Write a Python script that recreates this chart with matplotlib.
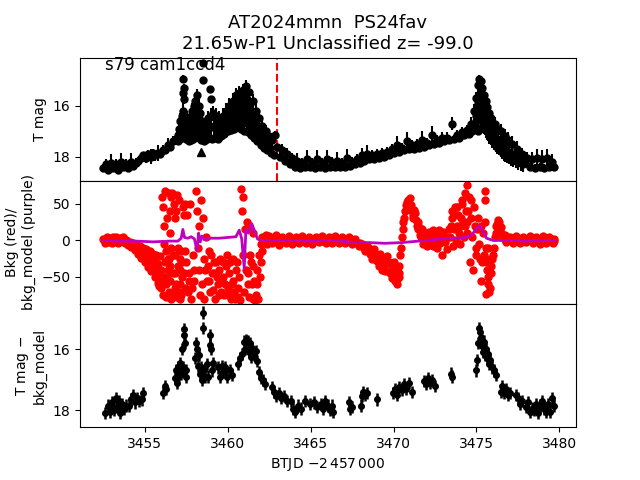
import numpy as np
import matplotlib
matplotlib.use("Agg")
import matplotlib.pyplot as plt

# ---- top panel: T mag light curve (time, mag, err) ----
top_t = [3452.50, 3452.65, 3452.80, 3452.95, 3453.10, 3453.25, 3453.40, 3453.55, 3453.70, 3453.85,
         3454.00, 3454.15, 3454.30, 3454.45, 3454.60, 3454.75, 3454.90, 3455.05, 3455.20, 3455.35,
         3455.50, 3455.65, 3455.80, 3455.95, 3456.10, 3456.25, 3456.40, 3456.55, 3456.70, 3456.85,
         3457.00, 3457.05, 3457.10, 3457.15, 3457.20, 3457.25, 3457.30, 3457.32, 3457.34, 3457.36,
         3457.40, 3457.45, 3457.50, 3457.55, 3457.60, 3457.65, 3457.70, 3457.75, 3457.80, 3457.85,
         3457.90, 3457.95, 3458.00, 3458.05, 3458.10, 3458.15, 3458.20, 3458.25, 3458.30, 3458.35,
         3458.40, 3458.45, 3458.50, 3458.52, 3458.55, 3458.60, 3458.65, 3458.70, 3458.75, 3458.80,
         3458.85, 3458.95, 3458.97, 3459.00, 3459.05, 3459.10, 3459.20, 3459.30, 3459.40, 3459.50,
         3459.60, 3459.70, 3459.80, 3459.90, 3460.00, 3460.10, 3460.20, 3460.30, 3460.40, 3460.50,
         3460.60, 3460.70, 3460.80, 3460.90, 3461.00, 3461.10, 3461.20, 3461.30, 3461.40, 3461.50,
         3461.60, 3461.70, 3461.80, 3461.90, 3462.00, 3462.10, 3462.20, 3462.30, 3462.40, 3462.50,
         3462.60, 3462.70, 3462.80, 3462.85, 3463.00, 3463.15, 3463.30, 3463.45, 3463.60, 3463.75,
         3463.90, 3464.05, 3464.20, 3464.35, 3464.50, 3464.65, 3464.80, 3464.95, 3465.10, 3465.25,
         3465.40, 3465.55, 3465.70, 3465.85, 3466.00, 3466.15, 3466.30, 3466.45, 3466.60, 3466.75,
         3466.90, 3467.05, 3467.20, 3467.35, 3467.50, 3467.65, 3467.80, 3467.95, 3468.10, 3468.25,
         3468.40, 3468.55, 3468.70, 3468.85, 3469.00, 3469.15, 3469.30, 3469.45, 3469.60, 3469.75,
         3469.90, 3470.05, 3470.20, 3470.35, 3470.50, 3470.65, 3470.80, 3470.95, 3471.10, 3471.25,
         3471.40, 3471.55, 3471.70, 3471.85, 3472.00, 3472.15, 3472.30, 3472.45, 3472.60, 3472.75,
         3472.90, 3473.05, 3473.20, 3473.35, 3473.50, 3473.65, 3473.80, 3473.95, 3474.10, 3474.25,
         3474.40, 3474.55, 3474.65, 3474.75, 3474.85, 3474.95, 3475.00, 3475.05, 3475.10, 3475.12,
         3475.15, 3475.20, 3475.22, 3475.25, 3475.30, 3475.35, 3475.40, 3475.45, 3475.50, 3475.55,
         3475.60, 3475.65, 3475.70, 3475.75, 3475.85, 3475.90, 3476.00, 3476.10, 3476.20, 3476.30,
         3476.40, 3476.50, 3476.60, 3476.70, 3476.80, 3476.90, 3477.00, 3477.15, 3477.30, 3477.45,
         3477.60, 3477.75, 3477.90, 3478.05, 3478.20, 3478.35, 3478.50, 3478.65, 3478.80, 3478.95,
         3479.10, 3479.25, 3479.40, 3479.55, 3479.70]
top_mag = [18.45, 18.30, 18.50, 18.25, 18.45, 18.30, 18.50, 18.20, 18.40, 18.30,
           18.45, 18.20, 18.35, 18.25, 18.15, 18.05, 17.95, 18.05, 17.90, 18.00,
           17.85, 17.95, 17.85, 17.90, 17.75, 17.75, 17.55, 17.60, 17.40, 17.35,
           17.40, 16.90, 17.30, 16.60, 17.20, 16.40, 15.50, 14.95, 15.30, 15.75,
           17.20, 16.40, 17.30, 16.50, 17.35, 16.70, 17.40, 16.50, 17.35, 16.20,
           17.30, 16.00, 17.20, 15.80, 17.10, 15.60, 17.15, 16.00, 17.25, 16.30,
           17.35, 16.60, 14.35, 15.00, 17.40, 16.80, 17.35, 16.70, 17.30, 16.50,
           17.25, 15.35, 15.75, 16.40, 17.30, 16.30, 17.25, 16.40, 17.30, 16.50,
           17.20, 16.40, 17.10, 16.20, 17.00, 16.00, 16.95, 15.80, 16.90, 15.60,
           16.85, 15.50, 16.90, 15.40, 17.00, 15.25, 17.05, 15.45, 17.15, 15.80,
           17.25, 16.20, 17.40, 16.50, 17.55, 16.80, 17.65, 17.00, 17.75, 17.20,
           17.85, 17.35, 17.95, 17.15, 17.60, 18.00, 17.75, 18.15, 17.90, 18.30,
           18.05, 18.40, 18.15, 18.45, 18.25, 18.40, 18.10, 18.40, 18.25, 18.45,
           18.10, 18.40, 18.25, 18.45, 18.10, 18.40, 18.20, 18.40, 18.15, 18.40,
           18.25, 18.40, 18.05, 18.35, 18.20, 18.30, 18.10, 18.25, 17.95, 18.15,
           17.90, 18.10, 17.95, 18.10, 17.90, 18.05, 17.85, 18.00, 17.80, 17.95,
           17.70, 17.85, 17.55, 17.80, 17.65, 17.75, 17.40, 17.70, 17.55, 17.70,
           17.50, 17.65, 17.35, 17.60, 17.45, 17.55, 17.15, 17.50, 17.35, 17.45,
           17.25, 17.40, 17.25, 17.35, 16.70, 17.30, 17.15, 17.25, 17.05, 17.15,
           16.95, 17.10, 16.70, 17.00, 16.20, 16.60, 15.70, 16.30, 15.20, 17.00,
           14.95, 15.50, 16.90, 15.05, 15.70, 15.30, 15.90, 15.60, 16.10, 15.80,
           16.40, 16.05, 16.70, 16.30, 16.90, 16.50, 17.05, 16.70, 17.25, 16.90,
           17.40, 17.00, 17.55, 17.20, 17.70, 17.35, 17.85, 17.50, 17.95, 17.70,
           18.10, 17.90, 18.25, 18.05, 18.40, 18.10, 18.45, 18.05, 18.40, 18.10,
           18.45, 18.05, 18.40, 18.20, 18.40]
top_err = [0.15, 0.20, 0.15, 0.35, 0.15, 0.20, 0.15, 0.35, 0.15, 0.20,
           0.15, 0.35, 0.15, 0.20, 0.15, 0.20, 0.15, 0.20, 0.15, 0.30,
           0.15, 0.20, 0.30, 0.15, 0.20, 0.15, 0.30, 0.15, 0.20, 0.15,
           0.15, 0.30, 0.15, 0.30, 0.15, 0.30, 0.20, 0.15, 0.15, 0.20,
           0.15, 0.30, 0.15, 0.30, 0.15, 0.30, 0.15, 0.30, 0.15, 0.30,
           0.15, 0.30, 0.15, 0.25, 0.15, 0.25, 0.15, 0.30, 0.15, 0.30,
           0.15, 0.30, 0.10, 0.10, 0.15, 0.30, 0.15, 0.30, 0.15, 0.30,
           0.15, 0.10, 0.10, 0.30, 0.15, 0.30, 0.15, 0.30, 0.15, 0.30,
           0.15, 0.30, 0.15, 0.30, 0.15, 0.30, 0.15, 0.30, 0.15, 0.30,
           0.15, 0.25, 0.15, 0.25, 0.15, 0.25, 0.15, 0.25, 0.15, 0.25,
           0.15, 0.25, 0.15, 0.25, 0.15, 0.25, 0.15, 0.25, 0.15, 0.25,
           0.15, 0.25, 0.15, 0.15, 0.20, 0.15, 0.25, 0.15, 0.25, 0.15,
           0.20, 0.15, 0.30, 0.15, 0.20, 0.15, 0.35, 0.15, 0.20, 0.15,
           0.35, 0.15, 0.20, 0.15, 0.35, 0.15, 0.20, 0.15, 0.35, 0.15,
           0.20, 0.15, 0.35, 0.15, 0.20, 0.15, 0.20, 0.15, 0.30, 0.15,
           0.35, 0.15, 0.20, 0.15, 0.20, 0.15, 0.20, 0.15, 0.20, 0.15,
           0.20, 0.15, 0.35, 0.15, 0.20, 0.15, 0.35, 0.15, 0.20, 0.15,
           0.20, 0.15, 0.35, 0.15, 0.20, 0.15, 0.35, 0.15, 0.20, 0.15,
           0.20, 0.15, 0.20, 0.15, 0.25, 0.15, 0.20, 0.15, 0.20, 0.15,
           0.20, 0.15, 0.25, 0.15, 0.25, 0.20, 0.25, 0.20, 0.20, 0.15,
           0.15, 0.20, 0.15, 0.15, 0.20, 0.15, 0.20, 0.15, 0.20, 0.20,
           0.20, 0.20, 0.20, 0.20, 0.15, 0.25, 0.15, 0.25, 0.15, 0.25,
           0.15, 0.30, 0.15, 0.30, 0.15, 0.30, 0.15, 0.30, 0.15, 0.30,
           0.15, 0.25, 0.15, 0.25, 0.15, 0.30, 0.15, 0.35, 0.15, 0.35,
           0.15, 0.35, 0.15, 0.30, 0.15]
# extra points inside the outbursts (the dense middle of each "tree")
fill_t = [3457.02, 3457.12, 3457.22, 3457.28, 3457.42, 3457.52, 3457.62, 3457.72, 3457.82, 3457.92,
          3458.02, 3458.12, 3458.22, 3458.32, 3458.42, 3458.57, 3458.67, 3458.77, 3458.87, 3459.02,
          3459.15, 3459.25, 3459.35, 3459.45, 3459.55, 3459.65, 3459.75, 3459.85, 3459.95, 3460.05,
          3460.15, 3460.25, 3460.35, 3460.45, 3460.55, 3460.65, 3460.75, 3460.85, 3460.95, 3461.05,
          3461.15, 3461.25, 3461.35, 3461.45, 3461.55, 3461.65, 3461.75, 3461.85, 3461.95, 3462.05,
          3462.15, 3462.25, 3462.35, 3462.45, 3462.55,
          3474.90, 3474.98, 3475.03, 3475.08, 3475.13, 3475.18, 3475.23, 3475.28, 3475.33, 3475.38,
          3475.43, 3475.48, 3475.53, 3475.58, 3475.63, 3475.68, 3475.78, 3475.88, 3475.95, 3476.05,
          3476.15, 3476.25, 3476.35, 3476.45, 3476.55, 3476.65, 3476.75, 3476.85, 3476.95, 3477.08,
          3477.22, 3477.38, 3477.52, 3477.68, 3477.82]
fill_mag = [17.15, 16.95, 16.80, 16.20, 16.80, 16.90, 17.00, 16.95, 16.80, 16.65,
            16.50, 16.35, 16.55, 16.75, 16.95, 17.10, 17.00, 16.90, 16.85, 16.85,
            16.80, 16.85, 16.85, 16.90, 16.85, 16.80, 16.75, 16.65, 16.60, 16.50,
            16.45, 16.35, 16.30, 16.20, 16.20, 16.15, 16.10, 16.15, 16.15, 16.10,
            16.20, 16.25, 16.35, 16.45, 16.60, 16.80, 16.95, 17.05, 17.20, 17.30,
            17.35, 17.45, 17.50, 17.60, 17.65,
            16.70, 16.40, 16.10, 15.90, 15.90, 15.90, 16.00, 16.10, 16.20, 16.35,
            16.50, 16.60, 16.70, 16.80, 16.90, 17.00, 17.10, 17.20, 17.30, 17.40,
            17.50, 17.60, 17.65, 17.70, 17.80, 17.85, 17.90, 17.95, 18.00, 18.05,
            18.10, 18.15, 18.20, 18.25, 18.30]
fill_err = [0.30, 0.35, 0.40, 0.50, 0.40, 0.40, 0.35, 0.40, 0.45, 0.50,
            0.55, 0.60, 0.50, 0.45, 0.40, 0.30, 0.30, 0.35, 0.35, 0.40,
            0.45, 0.40, 0.40, 0.40, 0.40, 0.40, 0.40, 0.40, 0.45, 0.45,
            0.50, 0.50, 0.55, 0.60, 0.60, 0.60, 0.65, 0.70, 0.70, 0.75,
            0.75, 0.70, 0.70, 0.65, 0.60, 0.50, 0.45, 0.45, 0.40, 0.35,
            0.30, 0.30, 0.30, 0.25, 0.25,
            0.35, 0.50, 0.60, 0.70, 0.70, 0.75, 0.70, 0.65, 0.60, 0.55,
            0.50, 0.50, 0.45, 0.45, 0.45, 0.40, 0.40, 0.35, 0.35, 0.35,
            0.30, 0.30, 0.30, 0.30, 0.30, 0.30, 0.30, 0.30, 0.30, 0.30,
            0.30, 0.30, 0.30, 0.30, 0.30]
limit_t = [3458.41]
limit_mag = [17.80]
tns_t = 3462.95  # discovery epoch marker

# ---- middle panel: background flux and background model ----
bkg_t = [3452.50, 3452.60, 3452.70, 3452.80, 3452.90, 3453.00, 3453.10, 3453.20, 3453.30, 3453.40,
         3453.50, 3453.60, 3453.70, 3453.80, 3453.90, 3454.00, 3454.10, 3454.20, 3454.30, 3454.40,
         3454.50, 3454.60, 3454.70, 3454.80, 3454.90, 3455.00, 3455.10, 3455.20, 3455.30, 3455.40,
         3455.50, 3455.60, 3455.70, 3455.80, 3455.90, 3456.00, 3456.05, 3456.10, 3456.12, 3456.15,
         3456.18, 3456.20, 3456.22, 3456.25, 3456.28, 3456.30, 3456.35, 3456.40, 3456.45, 3456.50,
         3456.55, 3456.60, 3456.65, 3456.70, 3456.75, 3456.80, 3456.85, 3456.90, 3456.95, 3457.00,
         3457.05, 3457.10, 3457.15, 3457.20, 3457.25, 3457.30, 3457.40, 3457.50, 3457.55, 3457.60,
         3457.70, 3457.75, 3457.80, 3457.90, 3458.00, 3458.10, 3458.15, 3458.20, 3458.25, 3458.30,
         3458.35, 3458.40, 3458.45, 3458.50, 3458.55, 3458.60, 3458.70, 3458.80, 3458.90, 3459.00,
         3459.10, 3459.20, 3459.30, 3459.40, 3459.50, 3459.60, 3459.70, 3459.80, 3459.90, 3460.00,
         3460.10, 3460.20, 3460.30, 3460.40, 3460.50, 3460.60, 3460.70, 3460.80, 3460.85, 3460.90,
         3460.95, 3461.00, 3461.05, 3461.10, 3461.15, 3461.20, 3461.30, 3461.40, 3461.50, 3461.60,
         3461.70, 3461.80, 3461.90, 3462.00, 3462.10, 3462.20, 3462.30, 3462.40, 3462.50, 3462.70,
         3462.90, 3463.10, 3463.30, 3463.50, 3463.70, 3463.90, 3464.10, 3464.30, 3464.50, 3464.70,
         3464.90, 3465.10, 3465.30, 3465.50, 3465.70, 3465.90, 3466.10, 3466.30, 3466.50, 3466.70,
         3466.90, 3467.10, 3467.30, 3467.50, 3467.70, 3467.90, 3468.10, 3468.30, 3468.50, 3468.70,
         3468.90, 3469.10, 3469.30, 3469.50, 3469.70, 3469.90, 3470.05, 3470.20, 3470.30, 3470.40,
         3470.50, 3470.60, 3470.70, 3470.80, 3470.90, 3471.00, 3471.10, 3471.20, 3471.30, 3471.40,
         3471.50, 3471.60, 3471.70, 3471.80, 3471.90, 3472.00, 3472.15, 3472.30, 3472.45, 3472.60,
         3472.75, 3472.90, 3473.05, 3473.20, 3473.35, 3473.50, 3473.60, 3473.70, 3473.80, 3473.90,
         3474.00, 3474.10, 3474.20, 3474.30, 3474.40, 3474.45, 3474.50, 3474.60, 3474.70, 3474.80,
         3474.90, 3475.00, 3475.10, 3475.20, 3475.30, 3475.40, 3475.50, 3475.52, 3475.54, 3475.56,
         3475.58, 3475.60, 3475.70, 3475.80, 3475.90, 3476.00, 3476.10, 3476.20, 3476.30, 3476.40,
         3476.50, 3476.60, 3476.70, 3476.80, 3477.00, 3477.20, 3477.40, 3477.60, 3477.80, 3478.00,
         3478.20, 3478.40, 3478.60, 3478.80, 3479.00, 3479.20, 3479.40, 3479.60, 3479.70]
bkg_val = [2, -3, 5, -2, 3, -4, 4, 0, 5, -3,
           3, -1, 4, -3, 1, -6, -2, -9, -5, -13,
           -10, -18, -15, -24, -20, -30, -25, -36, -30, -42,
           -35, -50, -40, -58, -45, -65, 60, -75, 45, 20,
           -5, -30, -50, 68, -60, -78, 30, -40, -70, 10,
           -55, -80, 65, -20, 50, -65, -45, 40, -78, -35,
           55, -60, -25, -75, -50, 45, -65, -30, 35, -70,
           -45, 50, -80, -20, -55, 68, 40, -10, 20, -40,
           -75, 55, -60, 30, -25, -80, 5, -35, -55, -20,
           -68, -45, -30, -60, -40, -70, -50, -75, -35, -65,
           -45, -80, -55, -70, -40, -78, -50, 70, 40, -20,
           60, -70, 15, -40, 25, -60, -78, -30, -80, -55,
           -75, -40, -20, -5, 5, -3, 8, -5, 6, -4,
           7, -6, 5, -3, 6, -5, 4, -4, 6, -3,
           5, -5, 4, -2, 6, -4, 5, -3, 6, -4,
           4, -3, 5, -5, 2, -8, -5, -15, -10, -25,
           -18, -35, -25, -42, -30, -52, -45, -60, -50, -20,
           5, 25, 40, 52, 45, 58, 40, 30, 38, 20,
           25, 8, 15, -5, 10, -8, 12, -5, 8, -10,
           14, -20, 5, -12, 15, 30, -8, 45, 20, 35,
           -5, 50, 25, 65, 10, 76, 40, -30, 55, -40,
           20, -10, 30, -25, -55, 10, 68, 55, 25, -10,
           -30, -74, -50, -65, -35, -20, 5, 20, 28, 15,
           10, 3, 8, -2, 4, -3, 6, -4, 5, -2,
           6, -4, 4, -5, 6, -3, 5, -4, 2]
# denser background samples filling the red cloud
bkg_t2 = [3452.55, 3452.65, 3452.75, 3452.85, 3452.95, 3453.05, 3453.15, 3453.25, 3453.35, 3453.45,
          3453.55, 3453.65, 3453.75, 3453.85, 3453.95, 3454.05, 3454.15, 3454.30, 3454.50, 3454.60,
          3454.70, 3454.90, 3455.00, 3455.10, 3455.20, 3455.30, 3455.40, 3455.50, 3455.60, 3455.70,
          3455.75, 3455.80, 3455.85, 3455.90, 3455.95, 3456.00, 3456.30, 3456.35, 3456.40, 3456.45,
          3456.45, 3456.55, 3456.55, 3456.60, 3456.60, 3456.70, 3456.75, 3456.80, 3456.85, 3456.90,
          3456.95, 3457.00, 3457.05, 3457.10, 3457.15, 3457.20, 3457.25, 3457.35, 3457.35, 3457.45,
          3457.45, 3457.65, 3457.85, 3457.95, 3458.65, 3458.75, 3458.85, 3458.95, 3459.05, 3459.15,
          3459.25, 3459.35, 3459.45, 3459.55, 3459.65, 3459.75, 3459.85, 3459.95, 3460.05, 3460.15,
          3460.25, 3460.35, 3460.45, 3460.55, 3460.65, 3460.75, 3461.25, 3461.30, 3461.35, 3461.45,
          3461.50, 3461.55, 3461.65, 3461.75, 3461.85, 3461.95, 3462.00, 3462.05, 3462.60, 3462.80,
          3463.00, 3463.20, 3463.40, 3463.60, 3463.80, 3464.00, 3464.20, 3464.40, 3464.60, 3464.80,
          3465.00, 3465.20, 3465.40, 3465.60, 3465.80, 3466.00, 3466.20, 3466.40, 3466.60, 3466.80,
          3467.00, 3467.20, 3467.40, 3467.60, 3467.80, 3468.00, 3468.20, 3468.40, 3468.60, 3468.80,
          3468.90, 3469.00, 3469.20, 3469.30, 3469.40, 3469.50, 3469.60, 3469.80, 3469.90, 3470.00,
          3470.10, 3470.15, 3470.25, 3470.35, 3470.35, 3470.45, 3470.55, 3470.65, 3470.75, 3470.85,
          3470.95, 3471.05, 3471.15, 3471.25, 3471.35, 3471.45, 3471.55, 3471.65, 3471.75, 3471.85,
          3471.95, 3472.05, 3472.20, 3472.35, 3472.40, 3472.50, 3472.65, 3472.80, 3472.95, 3473.00,
          3473.10, 3473.25, 3473.40, 3473.45, 3473.55, 3473.65, 3473.75, 3473.85, 3473.95, 3474.00,
          3474.05, 3474.15, 3474.25, 3474.30, 3474.35, 3474.45, 3474.55, 3474.65, 3474.75, 3474.85,
          3474.95, 3475.05, 3475.15, 3475.25, 3475.35, 3475.45, 3475.62, 3475.65, 3475.68, 3475.72,
          3475.75, 3475.85, 3475.95, 3476.05, 3476.15, 3476.25, 3476.35, 3476.45, 3476.55, 3476.65,
          3476.75, 3476.90, 3477.10, 3477.30, 3477.50, 3477.70, 3477.90, 3478.10, 3478.30, 3478.50,
          3478.70, 3478.90, 3479.10, 3479.30, 3479.50, 3479.65]
bkg_val2 = [0, 1, -1, 0, 1, -1, 2, 0, 1, -1,
            0, 1, -1, 0, -2, -3, -5, -3, -5, -12,
            -8, -10, -18, -12, -22, -15, -25, -18, -28, -20,
            -48, -32, -62, -22, -55, -40, -15, -50, -25, 65,
            -25, -35, 40, -10, 60, -45, -75, 30, -20, -60,
            62, -10, -70, -40, -80, -15, -30, -45, 35, -15,
            50, -55, -65, -40, -40, -55, -15, -70, -45, -30,
            -80, -50, -75, -25, -55, -30, -60, -20, -75, -30,
            -60, -25, -80, -30, -65, -82, -45, 20, -20, -60,
            10, -35, -82, -60, -80, -50, -30, -15, 2, -1,
            1, -2, 2, 0, 1, -1, 2, 0, 1, -1,
            2, 0, 1, -1, 2, 0, 1, -1, 2, 0,
            1, -1, 0, -2, -3, -3, -10, -8, -18, -12,
            -22, -28, -18, -40, -35, -32, -22, -45, -38, -30,
            -55, -40, -52, -35, -45, -10, 15, 30, 48, 55,
            50, 48, 35, 42, 28, 15, 18, 5, 12, 0,
            3, -3, 5, -8, 14, 2, 6, -4, 8, 12,
            -2, 4, 5, 20, 40, 15, 0, 45, 10, 20,
            30, 55, 5, 20, 40, 25, 60, 30, 5, 45,
            -20, 15, -5, 20, -30, -20, -40, -25, -10, -60,
            -70, -45, -25, -10, 10, 22, 25, 18, 8, 5,
            2, 0, 1, -1, 0, 2, -1, 1, 0, -1,
            1, 0, -1, 1, 0, -1]
model_t = [3452.5, 3453.5, 3454.5, 3455.5, 3456.5, 3457.0, 3457.2, 3457.3, 3457.4, 3457.6,
           3457.8, 3458.0, 3458.15, 3458.25, 3458.35, 3458.45, 3458.6, 3459.0, 3459.5, 3460.0,
           3460.5, 3460.7, 3460.85, 3461.0, 3461.1, 3461.25, 3461.45, 3461.6, 3461.8, 3462.0,
           3463.0, 3464.0, 3465.0, 3466.0, 3467.0, 3467.5, 3468.5, 3469.5, 3470.5, 3471.5,
           3472.5, 3473.5, 3474.0, 3474.5, 3474.8, 3475.0, 3475.2, 3475.4, 3475.6, 3476.0,
           3477.0, 3478.0, 3479.7]
model_val = [0, -1, -1, -2, -1, -1, 3, 15, 4, 3,
             5, 2, -14, 10, -2, 6, 1, 3, 3, 4,
             5, 14, 2, -38, 15, 10, 23, 14, 2, 0,
             0, 0, -1, 0, -1, -3, -3, -4, -3, -1,
             1, 3, 3, 5, 10, 16, 20, 12, 3, 0,
             0, -1, 0]

# ---- bottom panel: background-corrected, binned ----
bin_t = [3452.59, 3452.77, 3452.89, 3453.01, 3453.13, 3453.25, 3453.31, 3453.43, 3453.49, 3453.61,
         3453.73, 3453.85, 3454.03, 3454.15, 3454.27, 3454.39, 3454.51, 3454.63, 3454.81, 3454.87,
         3456.08, 3456.20, 3456.26, 3456.80, 3456.86, 3456.92, 3456.98, 3457.04, 3457.10, 3457.16,
         3457.22, 3457.28, 3457.34, 3457.37, 3457.40, 3457.46, 3457.52, 3458.01, 3458.07, 3458.13,
         3458.19, 3458.25, 3458.31, 3458.37, 3458.43, 3458.49, 3458.50, 3458.55, 3458.61, 3458.73,
         3458.79, 3458.91, 3458.94, 3458.97, 3459.03, 3459.09, 3459.39, 3459.51, 3459.63, 3459.75,
         3459.87, 3459.99, 3460.12, 3460.24, 3460.60, 3460.72, 3460.84, 3460.96, 3461.02, 3461.08,
         3461.20, 3461.26, 3461.32, 3461.38, 3461.44, 3461.56, 3461.68, 3461.80, 3461.92, 3462.04,
         3462.16, 3462.28, 3462.65, 3462.77, 3462.89, 3463.07, 3463.19, 3463.37, 3463.55, 3463.79,
         3463.91, 3464.09, 3464.27, 3464.45, 3464.69, 3464.94, 3465.18, 3465.36, 3465.60, 3465.72,
         3465.84, 3466.02, 3466.20, 3466.32, 3466.38, 3467.29, 3467.35, 3467.47, 3468.01, 3468.07,
         3468.19, 3468.31, 3468.43, 3469.03, 3469.99, 3470.11, 3470.23, 3470.35, 3470.53, 3470.65,
         3470.77, 3470.96, 3471.14, 3471.86, 3471.98, 3472.10, 3472.22, 3472.34, 3472.52, 3473.49,
         3473.55, 3475.00, 3475.06, 3475.12, 3475.18, 3475.24, 3475.30, 3475.36, 3475.42, 3475.48,
         3475.54, 3475.60, 3475.66, 3475.72, 3475.78, 3475.84, 3475.96, 3476.08, 3476.20, 3476.50,
         3476.56, 3476.68, 3476.80, 3476.92, 3477.04, 3477.40, 3477.52, 3477.65, 3477.77, 3478.01,
         3478.13, 3478.25, 3478.37, 3478.49, 3478.61, 3478.73, 3478.85, 3478.97, 3479.09, 3479.21,
         3479.34, 3479.46, 3479.58, 3479.70]
bin_mag = [18.10, 17.85, 18.05, 17.75, 18.00, 17.60, 17.90, 17.70, 18.10, 17.80,
           17.95, 17.85, 17.85, 17.65, 17.50, 17.75, 17.60, 17.70, 17.65, 17.45,
           17.45, 17.20, 17.30, 16.95, 16.70, 17.10, 16.60, 16.85, 16.45, 16.80,
           16.00, 16.60, 15.35, 15.55, 15.80, 16.70, 16.90, 16.30, 15.80, 16.00,
           16.55, 16.20, 16.80, 16.60, 17.00, 14.80, 15.30, 16.70, 16.90, 16.50,
           16.90, 15.55, 15.85, 16.00, 16.70, 16.45, 16.60, 16.90, 16.55, 16.75,
           16.60, 16.90, 16.70, 16.85, 16.50, 16.30, 16.15, 15.75, 16.00, 15.70,
           15.75, 16.10, 15.80, 16.25, 15.95, 16.20, 16.05, 16.40, 16.75, 16.95,
           17.00, 17.15, 17.25, 17.40, 17.55, 17.45, 17.60, 17.55, 17.70, 17.70,
           17.95, 18.05, 17.85, 17.95, 17.70, 17.80, 17.75, 17.90, 17.80, 17.95,
           17.70, 17.85, 18.00, 17.85, 18.05, 17.75, 17.95, 17.90, 17.85, 17.55,
           17.40, 17.50, 17.45, 17.65, 17.45, 17.30, 17.50, 17.25, 17.35, 17.15,
           17.30, 17.10, 17.40, 17.05, 17.15, 16.95, 17.10, 17.00, 17.20, 16.80,
           16.90, 16.70, 16.35, 15.80, 15.30, 15.45, 15.60, 15.90, 16.10, 15.75,
           16.20, 16.00, 16.30, 16.15, 16.50, 16.35, 16.60, 16.70, 16.85, 17.40,
           17.20, 17.45, 17.30, 17.50, 17.45, 17.50, 17.60, 17.80, 17.70, 17.90,
           17.75, 18.05, 17.95, 18.00, 17.80, 18.10, 17.85, 17.70, 17.95, 18.05,
           17.80, 18.05, 17.60, 17.85]
bin_err = [0.20] * len(bin_t)

fig, (ax1, ax2, ax3) = plt.subplots(3, 1, sharex=True, figsize=(6.4, 4.8))
fig.subplots_adjust(hspace=0)

ax1.errorbar(top_t, top_mag, yerr=top_err, fmt="o", color="k", ms=5, elinewidth=1.5)
ax1.errorbar(fill_t, fill_mag, yerr=fill_err, fmt="o", color="k", ms=5, elinewidth=1.5)
ax1.plot(limit_t, limit_mag, "^", color="k", ms=6)
ax1.axvline(tns_t, color="r", ls="--", lw=1.5)
ax1.set_ylim(18.94, 14.12)
ax1.set_ylabel("T mag")
ax1.text(0.05, 0.9, "s79 cam1ccd4", transform=ax1.transAxes, fontsize=12)
ax1.set_title("AT2024mmn  PS24fav\n21.65w-P1 Unclassified z= -99.0", fontsize=13)

ax2.plot(bkg_t, bkg_val, "o", color="r", ms=5)
ax2.plot(bkg_t2, bkg_val2, "o", color="r", ms=5)
ax2.plot(model_t, model_val, "-", color="m", lw=2)
ax2.set_ylim(-87, 81.5)
ax2.set_ylabel("Bkg (red)/\nbkg_model (purple)")

ax3.errorbar(bin_t, bin_mag, yerr=bin_err, fmt="o", color="k", ms=4, elinewidth=1.8)
ax3.set_ylim(18.56, 14.52)
ax3.set_ylabel("T mag $-$\nbkg_model")
ax3.set_xlim(3451.1, 3481.0)
ax3.set_xlabel("BTJD $-2\\,457\\,000$")

plt.savefig("out.png", dpi=100)
print("done")
